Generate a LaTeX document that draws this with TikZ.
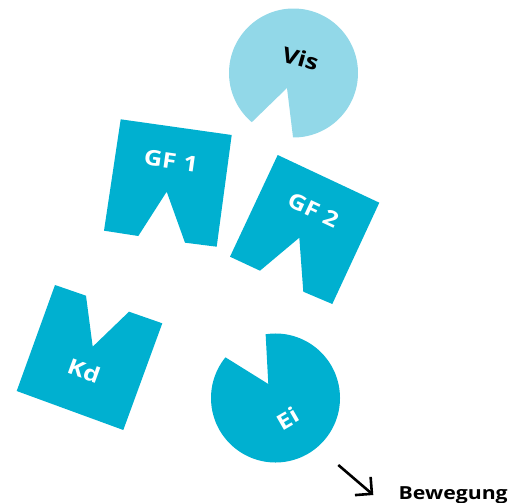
\documentclass[tikz,border=0pt]{standalone}
\usepackage{fontspec}
\setmainfont{Open Sans}
\newfontfamily\widefont[FakeStretch=1.18]{Open Sans}
\usetikzlibrary{arrows.meta,calc}
\definecolor{teal}{RGB}{0,176,208}
\definecolor{lightteal}{RGB}{146,216,232}
\begin{document}
\begin{tikzpicture}[x=1pt,y=-1pt,
  piece/.style={fill=teal,draw=none},
  lbl/.style={text=white,font=\widefont\fontsize{21.5}{26}\selectfont\bfseries,inner sep=0pt},
  motion/.style={line width=2.6pt,-{Straight Barb[length=12pt,width=24pt,line width=2.6pt]}}]
\useasboundingbox (0,0) rectangle (509,503);
% Vis
\coordinate (vc) at (293.5,73);
\fill[lightteal] (287,88) -- ($(vc)+(90.4:64.5)$) arc[start angle=90.4,end angle=-229.7,radius=64.5] -- cycle;
\node[lbl,text=black,rotate=-16] (vis) at (300.5,58.5) {Vis};
% GF 1
\fill[piece] (120.7,119.3) -- (231.7,135) -- (216.7,246.7) -- (185,242.7) -- (166.7,191.7) -- (138.3,236) -- (104,230.7) -- cycle;
\node[lbl,rotate=-8] (gf1) at (171,161) {GF\,\,1};
% GF 2
\fill[piece] (277.7,155) -- (379.3,202.7) -- (332.3,304) -- (303.3,291.7) -- (299.3,237.7) -- (260,270.7) -- (230,256.7) -- cycle;
\node[lbl,rotate=-25] (gf2) at (313.3,210) {GF 2};
% Kd
\fill[piece] (55,285) -- (86,295.7) -- (92.7,346.7) -- (129,311.7) -- (162.3,323.3) -- (123.3,430) -- (16.7,391) -- cycle;
\node[lbl,rotate=-20] (kd) at (84,370.5) {Kd};
% Ei
\coordinate (ec) at (275.5,398);
\fill[piece] (268.3,384) -- ($(ec)+(261.2:64.5)$) arc[start angle=261.2,end angle=579.1,radius=64.5] -- cycle;
\node[lbl,rotate=30] (ei) at (288,418.5) {Ei};
% Bewegung
\coordinate (m1) at (338.3,465);
\coordinate (m2) at (373.3,495);
\draw[motion] (m1) -- (m2);
\node[anchor=base west,inner sep=0pt,font=\widefont\fontsize{18}{22}\selectfont\bfseries] (bew) at (398.5,499) {Bewegung};
\end{tikzpicture}
\end{document}
